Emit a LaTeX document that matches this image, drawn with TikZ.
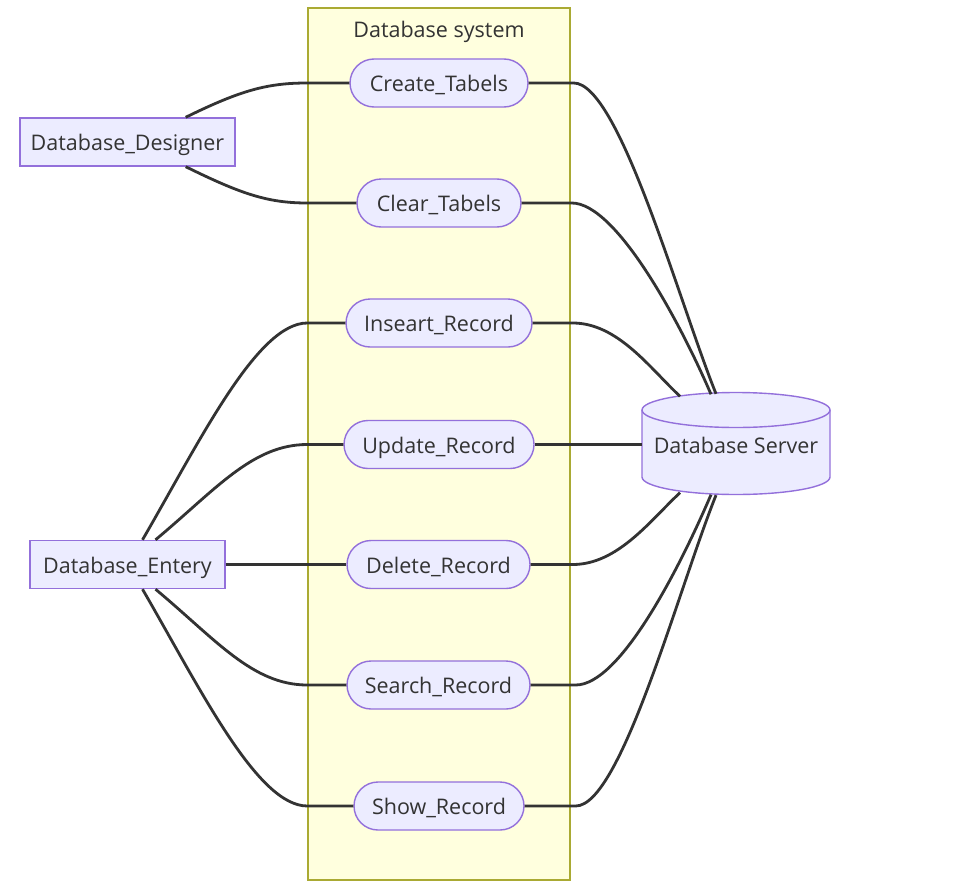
\documentclass[tikz,border=0pt]{standalone}
\usepackage{fontspec}
\setmainfont{Open Sans}
\usetikzlibrary{shapes.misc,calc}
\definecolor{nodefill}{HTML}{ECECFF}
\definecolor{nodeline}{HTML}{9370DB}
\definecolor{grpfill}{HTML}{FFFFDE}
\definecolor{grpline}{HTML}{AAAA33}
\definecolor{txt}{HTML}{333333}
\begin{document}
\begin{tikzpicture}[x=1pt,y=1pt,
  lbl/.style={font=\fontsize{21.5}{25}\selectfont, text=txt, text height=18pt, text depth=1pt},
  actor/.style={lbl, draw=nodeline, fill=nodefill, line width=1.4pt, rectangle, minimum height=48pt, inner sep=0pt},
  usecase/.style={lbl, draw=nodeline, fill=nodefill, line width=1.4pt, rounded rectangle, minimum height=48pt, inner sep=0pt},
  link/.style={draw=txt, line width=2.8pt}]
\useasboundingbox (0,0) rectangle (955,-891);
% subgraph
\draw[fill=grpfill, draw=grpline, line width=1.4pt] (308,-8) rectangle (570,-880);
\node[lbl, inner sep=0pt] (title) at (439,-29) {Database system};
% use cases
\node[usecase, minimum width=178pt] (ct) at (439,-83) {Create\_Tabels};
\node[usecase, minimum width=164pt] (cl) at (439,-203) {Clear\_Tabels};
\node[usecase, minimum width=186pt] (ins) at (439,-323) {Inseart\_Record};
\node[usecase, minimum width=190pt] (upd) at (439,-444.5) {Update\_Record};
\node[usecase, minimum width=183pt] (del) at (438.5,-564.5) {Delete\_Record};
\node[usecase, minimum width=183pt] (sea) at (438.5,-685) {Search\_Record};
\node[usecase, minimum width=170pt] (sho) at (439,-806) {Show\_Record};
% actors
\node[actor, minimum width=215pt] (des) at (127.5,-142) {Database\_Designer};
\node[actor, minimum width=195pt] (ent) at (127.5,-564.5) {Database\_Entery};
% server cylinder
\path[fill=nodefill, draw=nodeline, line width=1.4pt] (642,-410) -- (642,-477)
  arc[start angle=180, end angle=360, x radius=94, y radius=17.5] -- (830,-410)
  arc[start angle=0, end angle=180, x radius=94, y radius=17.5] -- cycle;
\draw[draw=nodeline, line width=1.4pt] (642,-410) arc[start angle=180, end angle=360, x radius=94, y radius=17.5];
\node[lbl, minimum width=188pt, minimum height=102pt, inner sep=0pt] (srv) at (736,-444.5) {Database Server};
% left links
\draw[link] ([xshift=-50pt]des.north east) .. controls +(55,27) and +(-40,0) .. ([xshift=-42pt]ct.west) -- (ct.west);
\draw[link] ([xshift=-50pt]des.south east) .. controls +(55,-27) and +(-40,0) .. ([xshift=-49pt]cl.west) -- (cl.west);
\draw[link] ([xshift=15pt]ent.north) .. controls +(58,100) and +(-50,0) .. ([xshift=-38pt]ins.west) -- (ins.west);
\draw[link] ([xshift=28pt]ent.north) .. controls +(60,50) and +(-55,0) .. ([xshift=-36pt]upd.west) -- (upd.west);
\draw[link] (ent.east) -- (del.west);
\draw[link] ([xshift=28pt]ent.south) .. controls +(60,-50) and +(-55,0) .. ([xshift=-39pt]sea.west) -- (sea.west);
\draw[link] ([xshift=15pt]ent.south) .. controls +(58,-100) and +(-50,0) .. ([xshift=-46pt]sho.west) -- (sho.west);
% right links
\draw[link] (ct.east) -- ++(45,0) .. controls +(45,0) and +(-38,95) .. ([xshift=-20pt,yshift=-0.5pt]srv.north);
\draw[link] (cl.east) -- ++(50,0) .. controls +(45,0) and +(-30,70) .. ([xshift=-25pt,yshift=-1pt]srv.north);
\draw[link] (ins.east) -- ++(40,0) .. controls +(45,0) and +(-30,28) .. ([xshift=-56pt,yshift=-3pt]srv.north);
\draw[link] (upd.east) -- (srv.west);
\draw[link] (del.east) -- ++(42,0) .. controls +(45,0) and +(-30,-28) .. ([xshift=-56pt,yshift=3pt]srv.south);
\draw[link] (sea.east) -- ++(45,0) .. controls +(45,0) and +(-30,-70) .. ([xshift=-25pt,yshift=1pt]srv.south);
\draw[link] (sho.east) -- ++(51,0) .. controls +(45,0) and +(-38,-95) .. ([xshift=-20pt,yshift=0.5pt]srv.south);
\end{tikzpicture}
\end{document}
